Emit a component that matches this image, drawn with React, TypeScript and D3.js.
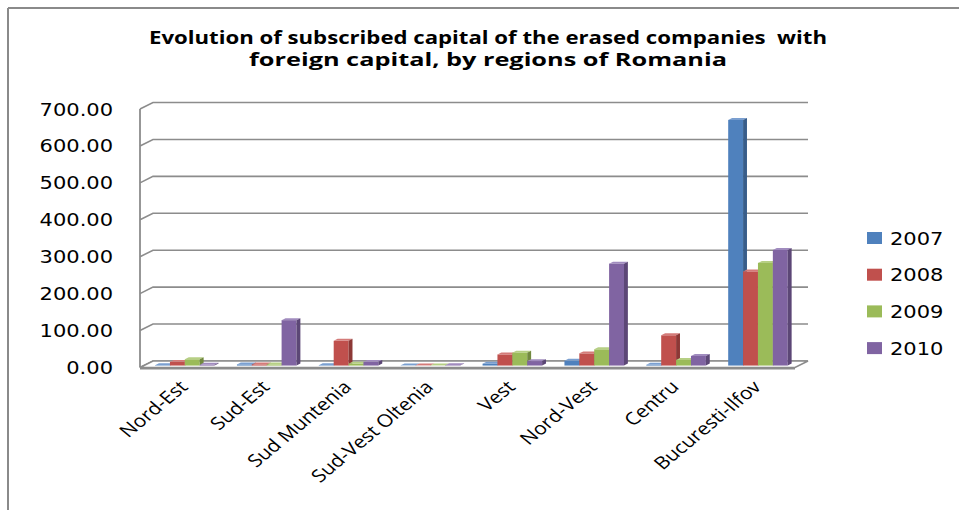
import React from "react";
import * as d3 from "d3";

// regions of Romania, in chart order
const regions = [
  "Nord-Est",
  "Sud-Est",
  "Sud Muntenia",
  "Sud-Vest Oltenia",
  "Vest",
  "Nord-Vest",
  "Centru",
  "Bucuresti-Ilfov",
];

const years = ["2007", "2008", "2009", "2010"];

// subscribed capital per year
const values2007 = [1, 3, 1, 0.5, 5, 13, 2, 665];
const values2008 = [10, 3, 67, 0.5, 30, 33, 82, 255];
const values2009 = [17, 3, 5, 0.5, 35, 44, 15, 278];
const values2010 = [2, 123, 10, 1, 12, 276, 26, 313];

const yTicks = [0, 100, 200, 300, 400, 500, 600, 700];

const titleLines = [
  "Evolution of subscribed capital of the erased companies  with",
  "foreign capital, by regions of Romania",
];

const seriesValues = [values2007, values2008, values2009, values2010];
const faceColors = [
  { front: "#4F81BD", side: "#385D8A", top: "#7A9FD0" },
  { front: "#C0504D", side: "#8C3836", top: "#D47B79" },
  { front: "#9BBB59", side: "#71893F", top: "#B6CF84" },
  { front: "#8064A2", side: "#5C4776", top: "#A08BBE" },
];

const W = 959;
const H = 510;
const plotLeft = 140;
const plotRight = 795;
const depthX = 13;
const depthY = -6.5;
// bars sit between these depth fractions
const barFront = 0.3;
const barBack = 0.6;
const gridColor = "#8c8c8c";
const stretch = 1.2;

export default function App() {
  const x0 = d3.scaleBand<string>().domain(regions).range([plotLeft, plotRight]);
  const x1 = d3
    .scaleBand<string>()
    .domain(years)
    .range([0, x0.bandwidth()])
    .paddingOuter(0.75);
  const y = d3.scaleLinear().domain([0, 700]).range([367.5, 109]);

  const bx = barFront * depthX;
  const by = barFront * depthY;
  const sx = (barBack - barFront) * depthX;
  const sy = (barBack - barFront) * depthY;

  const bars: JSX.Element[] = [];
  regions.forEach((r, ci) => {
    years.forEach((yr, si) => {
      const v = seriesValues[si][ci];
      const left = (x0(r) ?? 0) + (x1(yr) ?? 0) + bx;
      const w = x1.bandwidth();
      const yb = y(0) + by;
      const yt = y(v) + by;
      const c = faceColors[si];
      bars.push(
        <g key={`${r}-${yr}`}>
          <rect x={left} y={yt} width={w} height={yb - yt} fill={c.front} />
          <path
            d={`M${left},${yt}L${left + sx},${yt + sy}L${left + w + sx},${yt + sy}L${left + w},${yt}Z`}
            fill={c.top}
          />
          <path
            d={`M${left + w},${yt}L${left + w + sx},${yt + sy}L${left + w + sx},${yb + sy}L${left + w},${yb}Z`}
            fill={c.side}
          />
        </g>
      );
    });
  });

  return (
    <svg
      width={W}
      height={H}
      style={{ position: "absolute", left: 0, top: 0, background: "#fff" }}
    >
      {/* outer frame */}
      <line x1={8} y1={8} x2={W} y2={8} stroke="#8a8a8a" strokeWidth={2} />
      <line x1={8} y1={8} x2={8} y2={H} stroke="#8a8a8a" strokeWidth={2} />

      {/* title */}
      {titleLines.map((t, i) => (
        <text
          key={i}
          x={488}
          y={44 + i * 22}
          textAnchor="middle"
          fontFamily="Open Sans, sans-serif"
          fontWeight="bold"
          fontSize={17}
          textLength={i === 0 ? 678 : 478}
          lengthAdjust="spacingAndGlyphs"
          fill="#000"
          style={{ whiteSpace: "pre" }}
        >
          {t}
        </text>
      ))}

      {/* back wall gridlines */}
      {yTicks.map((t) => (
        <path
          key={t}
          d={`M${plotLeft},${y(t)}L${plotLeft + depthX},${y(t) + depthY}L${plotRight + depthX},${y(t) + depthY}`}
          fill="none"
          stroke={gridColor}
          strokeWidth={1.6}
        />
      ))}
      <line
        x1={plotLeft}
        y1={y(700)}
        x2={plotLeft}
        y2={y(0)}
        stroke={gridColor}
        strokeWidth={1.8}
      />

      {/* floor */}
      <path
        d={`M${plotLeft},${y(0)}L${plotRight},${y(0)}L${plotRight + depthX},${y(0) + depthY}L${plotLeft + depthX},${y(0) + depthY}Z`}
        fill="#fff"
        stroke={gridColor}
        strokeWidth={1.6}
      />
      <line
        x1={plotLeft}
        y1={y(0) + 1}
        x2={plotRight}
        y2={y(0) + 1}
        stroke={gridColor}
        strokeWidth={2}
      />

      {bars}

      {/* y axis labels */}
      {yTicks.map((t) => (
        <g key={t} transform={`translate(113,${y(t) + 6.5}) scale(${stretch},1)`}>
          <text
            textAnchor="end"
            fontFamily="DejaVu Sans, Verdana, sans-serif"
            fontSize={17.5}
            fill="#000"
          >
            {d3.format(".2f")(t)}
          </text>
        </g>
      ))}

      {/* x axis labels */}
      {regions.map((r) => (
        <g
          key={r}
          transform={`translate(${(x0(r) ?? 0) + x0.bandwidth() / 2 + 8},388) scale(${stretch},1) rotate(-45)`}
        >
          <text
            textAnchor="end"
            fontFamily="Open Sans, sans-serif"
            fontSize={17.5}
            fill="#000"
          >
            {r}
          </text>
        </g>
      ))}

      {/* legend */}
      {years.map((yr, i) => {
        const cy = 238 + i * 36.7;
        return (
          <g key={yr}>
            <rect x={867} y={cy - 6} width={15} height={12} fill={faceColors[i].front} />
            <g transform={`translate(890,${cy + 6.5}) scale(${stretch},1)`}>
              <text
                fontFamily="DejaVu Sans, Verdana, sans-serif"
                fontSize={17.5}
                fill="#000"
              >
                {yr}
              </text>
            </g>
          </g>
        );
      })}
    </svg>
  );
}
